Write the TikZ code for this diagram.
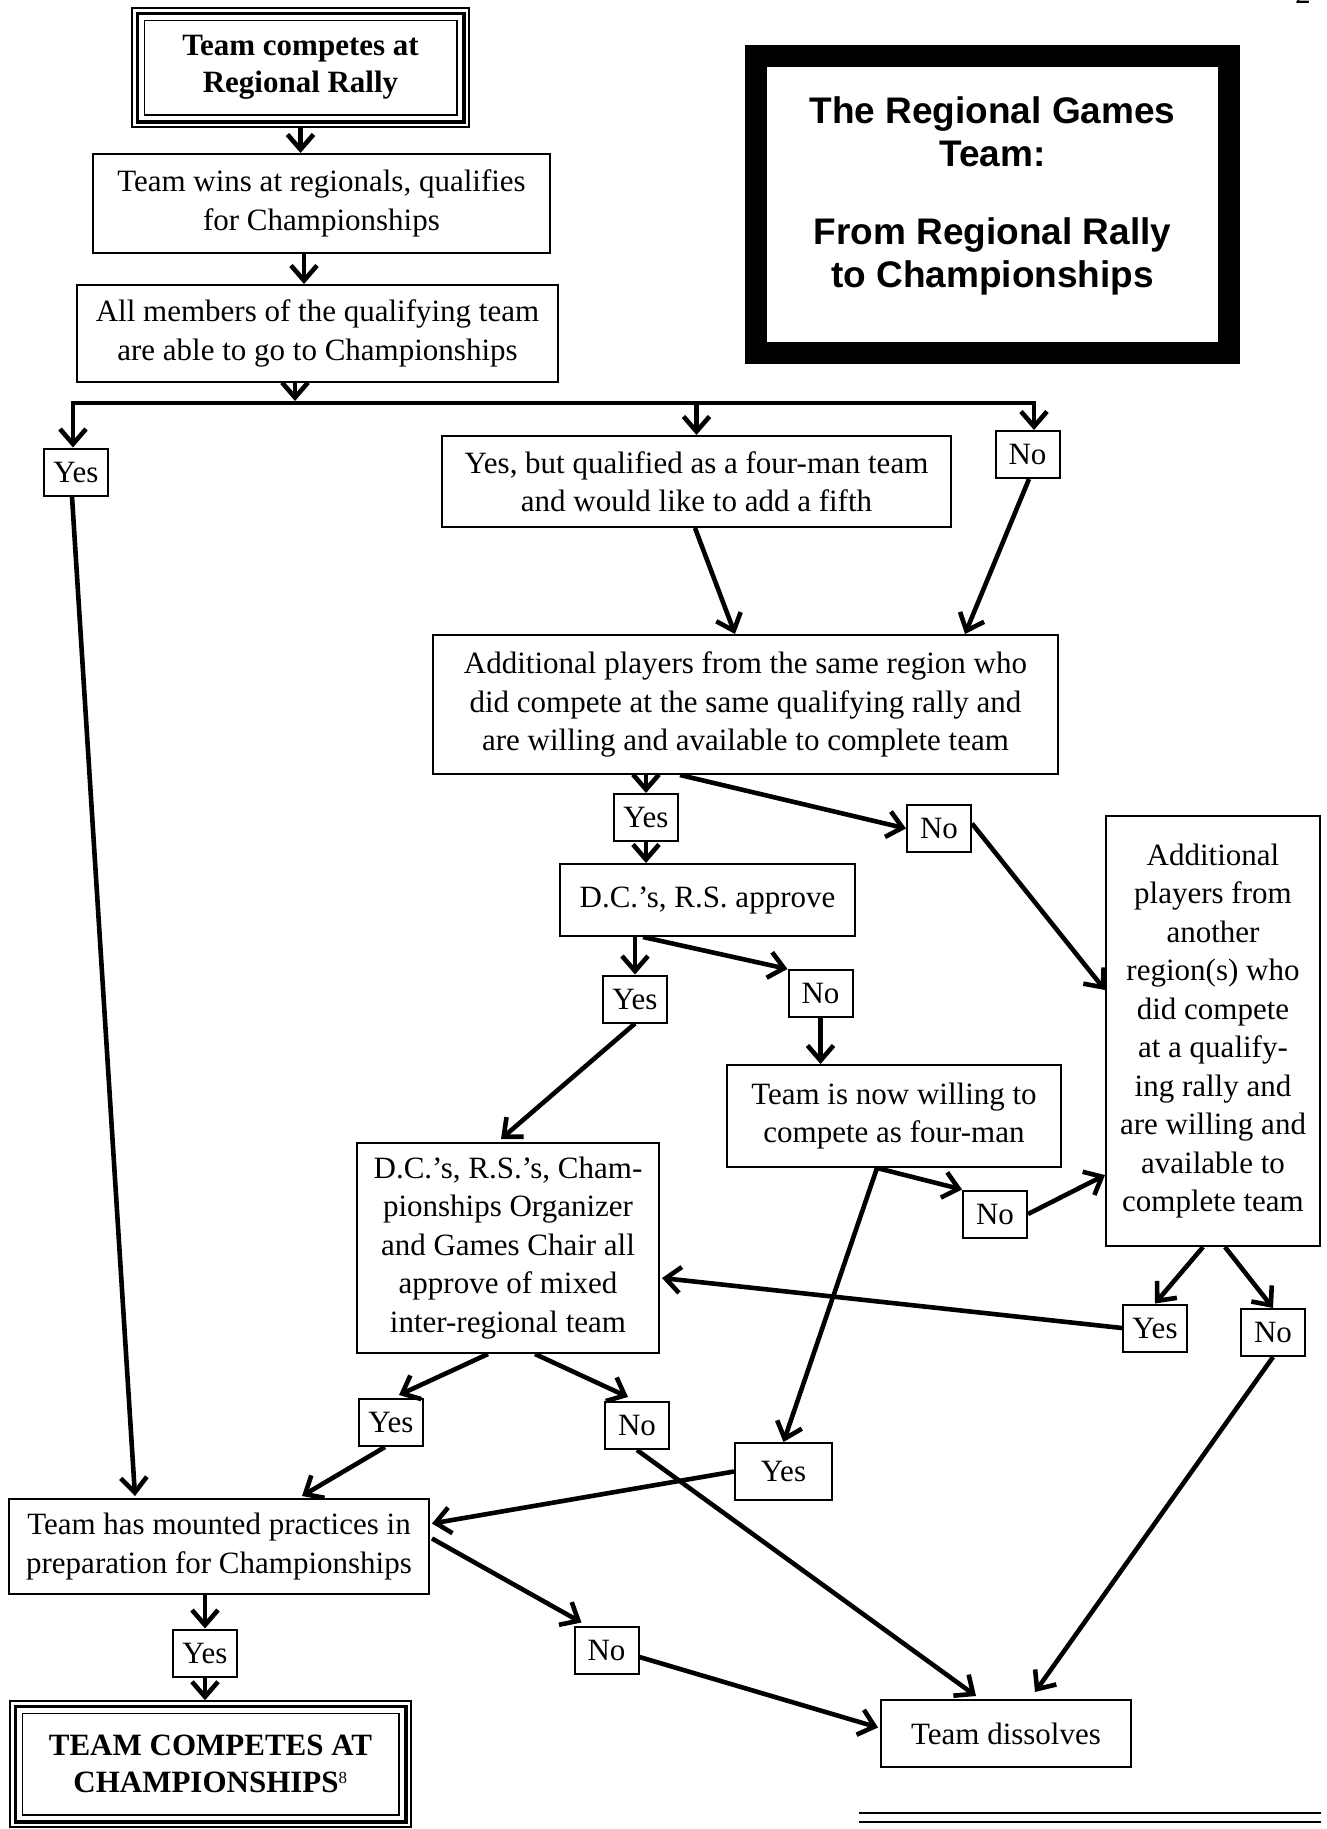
\documentclass[tikz,border=0pt]{standalone}
\usepackage{fontspec}
\setmainfont{Liberation Serif}
\newfontfamily\titlefont{Liberation Sans}
\usetikzlibrary{arrows.meta,calc}
\begin{document}
\begin{tikzpicture}[x=1pt,y=-1pt,
  wh/.style 2 args={minimum width=#1pt, minimum height=#2pt},
  box/.style={draw, line width=2pt, align=center, inner sep=0pt, font=\fontsize{31}{38.5}\selectfont},
  lab/.style={box, wh={64}{47}},
  bigbold/.style={box, line width=1.5pt, font=\bfseries\fontsize{31}{37}\selectfont},
  arr/.style={line width=4.6pt, -{Straight Barb[length=15pt,width=26pt]}},
  thickframe/.style={line width=3.5pt},
  thinframe/.style={line width=1.5pt}]
\useasboundingbox (0,0) rectangle (1326,1829);

% page number (cut off at the top edge, as in the reference)
\node[anchor=base, font=\itshape\fontsize{31}{31}\selectfont, inner sep=0pt] (pnum) at (1304,3) {2};

% title box
\node[draw, line width=22pt, wh={473}{297}, inner sep=0pt] (title) at (992.5,204.5) {};
\node[align=center, inner sep=0pt, font=\titlefont\bfseries\fontsize{37}{43}\selectfont] (titletext) at (992.5,196)
  {The Regional Games\\Team:\\[35pt]From Regional Rally\\to Championships};

% start box (triple frame)
\node[bigbold, wh={337}{119}] (start) at (300.5,67.5) {Team competes at\\Regional Rally};
\draw[thickframe] ($(start.north west)+(6,6)$) rectangle ($(start.south east)+(-6,-6)$);
\draw[thinframe] ($(start.north west)+(13,13)$) rectangle ($(start.south east)+(-13,-13)$);

\node[box, wh={457}{99}] (wins) at (321.5,203.5) {Team wins at regionals, qualifies\\for Championships};
\node[box, wh={481}{97}] (all) at (317.5,333.5) {All members of the qualifying team\\are able to go to Championships};

\node[lab] (yes1) at (76,472) {Yes};
\node[box, wh={509}{91}] (yesbut) at (696.5,481.5) {Yes, but qualified as a four-man team\\and would like to add a fifth};
\node[lab] (no1) at (1027.5,454.5) {No};

\node[box, wh={625}{139}] (add1) at (745.5,704.5) {Additional players from the same region who\\did compete at the same qualifying rally and\\are willing and available to complete team};
\node[lab] (yes2) at (646,817.5) {Yes};
\node[lab] (no2) at (939,828.5) {No};

\node[box, wh={214}{430}] (add2) at (1213,1031) {Additional\\players from\\another\\region(s) who\\did compete\\at a qualify-\\ing rally and\\are willing and\\available to\\complete team};

\node[box, wh={295}{72}] (dc1) at (707.5,900) {D.C.'s, R.S. approve};
\node[lab] (yes3) at (635,999) {Yes};
\node[lab] (no3) at (820.5,993.5) {No};
\node[box, wh={334}{102}] (team4) at (894,1116) {Team is now willing to\\compete as four-man};

\node[box, wh={302}{210}] (dc2) at (508,1248) {D.C.'s, R.S.'s, Cham-\\pionships Organizer\\and Games Chair all\\approve of mixed\\inter-regional team};
\node[lab] (no4) at (995,1214) {No};
\node[lab] (yes5) at (1155,1328) {Yes};
\node[lab] (no5) at (1273,1332.5) {No};
\node[lab, wh={97}{57}] (yes6) at (783.5,1471.5) {Yes};

\node[lab] (yes7) at (391,1422.5) {Yes};
\node[lab] (no6) at (637,1425.5) {No};
\node[box, wh={420}{95}] (tm) at (219,1546.5) {Team has mounted practices in\\preparation for Championships};
\node[lab] (yes8) at (205,1653) {Yes};
\node[lab] (no7) at (606.5,1650) {No};
\node[box, wh={250}{67}] (td) at (1006,1733.5) {Team dissolves};

% final box (triple frame)
\node[bigbold, wh={401}{126}] (final) at (210.5,1764) {TEAM COMPETES AT\\CHAMPIONSHIPS\textsuperscript{\normalfont\fontsize{17}{17}\selectfont 8}};
\draw[thickframe] ($(final.north west)+(6,6)$) rectangle ($(final.south east)+(-6,-6)$);
\draw[thinframe] ($(final.north west)+(13,13)$) rectangle ($(final.south east)+(-13,-13)$);

% connectors
\draw[arr] (start.south) -- (start.south |- wins.north);
\draw[arr] ($(wins.south)+(-17.5,0)$) -- ($(all.north)+(-13.5,0)$);
\coordinate (bl) at (73,403);
\coordinate (br) at (1034,403);
\coordinate (bm) at (295,401);
\draw[arr] ($(all.south)+(-22.5,0)$) -- (bm);
\draw[line width=4.6pt, line cap=rect] (bl) -- (br);
\draw[arr] (bl) -- (bl |- yes1.north);
\draw[arr] (br) -- (br |- no1.north);
\draw[arr] (yesbut.north |- bl) -- (yesbut.north);
\draw[arr] ($(yesbut.south)+(-1.5,0)$) -- ($(add1.north)+(-10.5,0)$);
\draw[arr] ($(no1.south)+(1.5,0)$) -- ($(add1.north)+(219.5,0)$);
\draw[arr] (add1.south -| yes2) -- (yes2.north);
\draw[arr] ($(add1.south)+(-65.5,0)$) -- (no2.west);
\draw[arr] ($(no2.east)+(0,-5)$) -- ($(add2.west)+(0,-41)$);
\draw[arr] (yes2.south) -- (yes2.south |- dc1.north);
\draw[arr] (dc1.south -| yes3) -- (yes3.north);
\draw[arr] ($(dc1.south)+(-64.5,0)$) -- (no3.north west);
\draw[arr] (no3.south) -- (no3.south |- team4.north);
\draw[arr] (yes3.south) -- ($(dc2.north)+(-7,-3)$);
\draw[arr] ($(team4.south)+(-17,0)$) -- (no4.north west);
\draw[arr] (no4.east) -- ($(add2.west)+(0,144)$);
\draw[arr] ($(add2.south)+(-10,0)$) -- (yes5.north);
\draw[arr] ($(add2.south)+(12,0)$) -- (no5.north);
\draw[arr] (yes5.west) -- ($(dc2.east)+(2,30)$);
\draw[arr] ($(team4.south)+(-17,0)$) -- (yes6.north);
\draw[arr] (yes6.west) -- ($(tm.east)+(2,-23)$);
\draw[arr] ($(dc2.south)+(-20,0)$) -- ($(yes7.north)+(8,-3)$);
\draw[arr] ($(dc2.south)+(27,0)$) -- ($(no6.north)+(-9,-4)$);
\draw[arr] ($(yes7.south)+(-6,0)$) -- ($(tm.north)+(83,-2)$);
\draw[arr] (no6.south) -- ($(td.north)+(-30,-3)$);
\draw[arr] ($(yes1.south)+(-4,0)$) -- ($(tm.north)+(-84,-2)$);
\draw[arr] (tm.south -| yes8) -- (yes8.north);
\draw[arr] (yes8.south) -- (yes8.south |- final.north);
\draw[arr] ($(tm.east)+(2,-8)$) -- ($(no7.north west)+(8,-3)$);
\draw[arr] ($(no7.east)+(0,7)$) -- ($(td.west)+(-2,-6)$);
\draw[arr] (no5.south) -- ($(td.north)+(29,-7)$);

% footnote rule
\draw[line width=2pt] (859,1813) -- (1321,1813);
\draw[line width=2pt] (859,1822) -- (1321,1822);
\end{tikzpicture}
\end{document}
